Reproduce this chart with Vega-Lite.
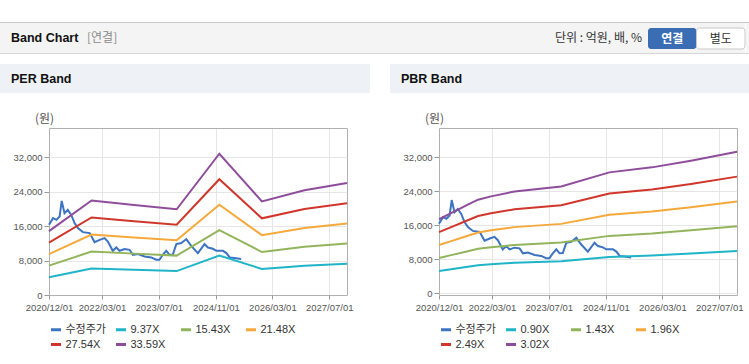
{
"$schema": "https://vega.github.io/schema/vega-lite/v6.json",
"padding": {"top": 22, "left": 0, "right": 0, "bottom": 0},
"background": "white",
"config": {
  "font": "Liberation Sans, Noto Sans CJK KR",
  "view": {"stroke": null},
  "axis": {"labelFont": "Liberation Sans", "labelFontSize": 9.5, "labelColor": "#555555", "tickColor": "#9a9a9a", "domain": false, "grid": true},
  "legend": {"orient": "none", "direction": "horizontal", "columns": 4, "symbolType": "stroke", "symbolStrokeWidth": 3, "symbolSize": 100, "labelFontSize": 11, "labelColor": "#333333", "labelFont": "Liberation Sans, Noto Sans CJK KR", "title": null, "gridAlign": "all", "columnPadding": 3, "rowPadding": 2, "labelOffset": 3}
},
"datasets": {
  "price": [
    {"d":"2020-12-01","v":16300},{"d":"2021-01-05","v":17850},{"d":"2021-02-03","v":17460},{"d":"2021-03-02","v":18230},{"d":"2021-03-20","v":21870},{"d":"2021-04-13","v":19010},{"d":"2021-05-11","v":19780},{"d":"2021-06-10","v":18620},{"d":"2021-07-08","v":16700},{"d":"2021-08-06","v":15530},{"d":"2021-09-18","v":14610},{"d":"2021-11-15","v":14380},{"d":"2021-12-27","v":12290},{"d":"2022-02-09","v":12820},{"d":"2022-03-22","v":13220},{"d":"2022-04-20","v":12430},{"d":"2022-06-01","v":10270},{"d":"2022-07-01","v":11040},{"d":"2022-07-29","v":10270},{"d":"2022-09-10","v":10670},{"d":"2022-10-23","v":10500},{"d":"2022-11-21","v":9340},{"d":"2023-01-03","v":9510},{"d":"2023-03-01","v":8950},{"d":"2023-04-27","v":8720},{"d":"2023-06-08","v":8190},{"d":"2023-07-06","v":8190},{"d":"2023-08-04","v":9340},{"d":"2023-09-03","v":10270},{"d":"2023-10-01","v":9340},{"d":"2023-10-29","v":9400},{"d":"2023-11-28","v":11830},{"d":"2024-01-10","v":12060},{"d":"2024-02-22","v":12990},{"d":"2024-04-04","v":11400},{"d":"2024-05-31","v":9740},{"d":"2024-07-27","v":11830},{"d":"2024-08-25","v":11040},{"d":"2024-10-07","v":10740},{"d":"2024-11-05","v":10270},{"d":"2025-01-01","v":10270},{"d":"2025-01-31","v":9740},{"d":"2025-02-28","v":8720},{"d":"2025-04-10","v":8580},{"d":"2025-06-06","v":8350}
  ],
  "perband": [
    {"s":"9.37X","d":"2020-12-01","v":4142},{"s":"9.37X","d":"2021-12-01","v":6128},{"s":"9.37X","d":"2022-12-01","v":5838},{"s":"9.37X","d":"2023-12-01","v":5556},{"s":"9.37X","d":"2024-12-01","v":9154},{"s":"9.37X","d":"2025-12-01","v":6062},{"s":"9.37X","d":"2026-12-01","v":6793},{"s":"9.37X","d":"2027-12-01","v":7252},
    {"s":"15.43X","d":"2020-12-01","v":6820},{"s":"15.43X","d":"2021-12-01","v":10091},{"s":"15.43X","d":"2022-12-01","v":9613},{"s":"15.43X","d":"2023-12-01","v":9150},{"s":"15.43X","d":"2024-12-01","v":15075},{"s":"15.43X","d":"2025-12-01","v":9983},{"s":"15.43X","d":"2026-12-01","v":11187},{"s":"15.43X","d":"2027-12-01","v":11943},
    {"s":"21.48X","d":"2020-12-01","v":9494},{"s":"21.48X","d":"2021-12-01","v":14048},{"s":"21.48X","d":"2022-12-01","v":13382},{"s":"21.48X","d":"2023-12-01","v":12738},{"s":"21.48X","d":"2024-12-01","v":20986},{"s":"21.48X","d":"2025-12-01","v":13898},{"s":"21.48X","d":"2026-12-01","v":15573},{"s":"21.48X","d":"2027-12-01","v":16626},
    {"s":"27.54X","d":"2020-12-01","v":12173},{"s":"27.54X","d":"2021-12-01","v":18011},{"s":"27.54X","d":"2022-12-01","v":17157},{"s":"27.54X","d":"2023-12-01","v":16331},{"s":"27.54X","d":"2024-12-01","v":26906},{"s":"27.54X","d":"2025-12-01","v":17818},{"s":"27.54X","d":"2026-12-01","v":19967},{"s":"27.54X","d":"2027-12-01","v":21316},
    {"s":"33.59X","d":"2020-12-01","v":14847},{"s":"33.59X","d":"2021-12-01","v":21968},{"s":"33.59X","d":"2022-12-01","v":20927},{"s":"33.59X","d":"2023-12-01","v":19919},{"s":"33.59X","d":"2024-12-01","v":32817},{"s":"33.59X","d":"2025-12-01","v":21733},{"s":"33.59X","d":"2026-12-01","v":24353},{"s":"33.59X","d":"2027-12-01","v":25999}
  ],
  "pbrband": [
    {"s":"0.90X","d":"2020-12-01","v":5184},{"s":"0.90X","d":"2021-03-15","v":5607},{"s":"0.90X","d":"2021-08-05","v":6192},{"s":"0.90X","d":"2021-11-01","v":6543},{"s":"0.90X","d":"2022-02-20","v":6777},{"s":"0.90X","d":"2022-09-10","v":7119},{"s":"0.90X","d":"2023-10-15","v":7470},{"s":"0.90X","d":"2024-12-01","v":8460},{"s":"0.90X","d":"2025-12-01","v":8811},{"s":"0.90X","d":"2026-11-01","v":9279},{"s":"0.90X","d":"2027-12-01","v":9900},
    {"s":"1.43X","d":"2020-12-01","v":8237},{"s":"1.43X","d":"2021-03-15","v":8909},{"s":"1.43X","d":"2021-08-05","v":9838},{"s":"1.43X","d":"2021-11-01","v":10396},{"s":"1.43X","d":"2022-02-20","v":10768},{"s":"1.43X","d":"2022-09-10","v":11311},{"s":"1.43X","d":"2023-10-15","v":11869},{"s":"1.43X","d":"2024-12-01","v":13442},{"s":"1.43X","d":"2025-12-01","v":14000},{"s":"1.43X","d":"2026-11-01","v":14743},{"s":"1.43X","d":"2027-12-01","v":15730},
    {"s":"1.96X","d":"2020-12-01","v":11290},{"s":"1.96X","d":"2021-03-15","v":12211},{"s":"1.96X","d":"2021-08-05","v":13485},{"s":"1.96X","d":"2021-11-01","v":14249},{"s":"1.96X","d":"2022-02-20","v":14759},{"s":"1.96X","d":"2022-09-10","v":15504},{"s":"1.96X","d":"2023-10-15","v":16268},{"s":"1.96X","d":"2024-12-01","v":18424},{"s":"1.96X","d":"2025-12-01","v":19188},{"s":"1.96X","d":"2026-11-01","v":20208},{"s":"1.96X","d":"2027-12-01","v":21560},
    {"s":"2.49X","d":"2020-12-01","v":14342},{"s":"2.49X","d":"2021-03-15","v":15513},{"s":"2.49X","d":"2021-08-05","v":17131},{"s":"2.49X","d":"2021-11-01","v":18102},{"s":"2.49X","d":"2022-02-20","v":18750},{"s":"2.49X","d":"2022-09-10","v":19696},{"s":"2.49X","d":"2023-10-15","v":20667},{"s":"2.49X","d":"2024-12-01","v":23406},{"s":"2.49X","d":"2025-12-01","v":24377},{"s":"2.49X","d":"2026-11-01","v":25672},{"s":"2.49X","d":"2027-12-01","v":27390},
    {"s":"3.02X","d":"2020-12-01","v":17395},{"s":"3.02X","d":"2021-03-15","v":18815},{"s":"3.02X","d":"2021-08-05","v":20778},{"s":"3.02X","d":"2021-11-01","v":21955},{"s":"3.02X","d":"2022-02-20","v":22741},{"s":"3.02X","d":"2022-09-10","v":23888},{"s":"3.02X","d":"2023-10-15","v":25066},{"s":"3.02X","d":"2024-12-01","v":28388},{"s":"3.02X","d":"2025-12-01","v":29566},{"s":"3.02X","d":"2026-11-01","v":31136},{"s":"3.02X","d":"2027-12-01","v":33220}
  ]
},
"spacing": 10,
"resolve": {"scale": {"color": "independent"}, "legend": {"color": "independent"}},
"vconcat": [
  {"spacing": 0, "vconcat": [
    {"width": 749, "height": 1, "view": {"fill": "#c8c8c8", "stroke": null},
     "data": {"values": []}, "mark": {"type": "text", "text": ""}, "encoding": {}},
    {"spacing": 0, "hconcat": [
      {"width": 85, "height": 30, "view": {"fill": "#f4f4f4", "stroke": null},
       "data": {"values": [{"t": "Band Chart"}]},
       "mark": {"type": "text", "align": "left", "baseline": "middle", "dx": 11, "fontSize": 12.5, "fontWeight": "bold", "color": "#111111", "font": "Liberation Sans"},
       "encoding": {"x": {"field": "t", "type": "nominal", "bandPosition": 0, "scale": {"type": "band", "paddingInner": 0, "paddingOuter": 0}, "axis": null}, "text": {"field": "t"}}},
      {"width": 298, "height": 30, "view": {"fill": "#f4f4f4", "stroke": null},
       "data": {"values": [{"t": "[연결]"}]},
       "mark": {"type": "text", "align": "left", "baseline": "middle", "dx": 2, "fontSize": 12, "color": "#8a8a8a", "font": "Noto Sans CJK KR"},
       "encoding": {"x": {"field": "t", "type": "nominal", "bandPosition": 0, "scale": {"type": "band", "paddingInner": 0, "paddingOuter": 0}, "axis": null}, "text": {"field": "t"}}},
      {"width": 265, "height": 30, "view": {"fill": "#f4f4f4", "stroke": null},
       "data": {"values": [{"t": "단위 : 억원, 배, %"}]},
       "mark": {"type": "text", "align": "right", "baseline": "middle", "dx": -6, "fontSize": 12, "color": "#333333", "font": "Noto Sans CJK KR"},
       "encoding": {"x": {"field": "t", "type": "nominal", "bandPosition": 1, "scale": {"type": "band", "paddingInner": 0, "paddingOuter": 0}, "axis": null}, "text": {"field": "t"}}},
      {"width": 97, "height": 30, "view": {"fill": "#f4f4f4", "stroke": null},
       "data": {"values": [{"b": "연결", "r": "a"}, {"b": "별도", "r": "a"}]},
       "encoding": {
         "x": {"field": "b", "type": "nominal", "sort": null, "scale": {"type": "band", "domain": ["연결", "별도"], "paddingInner": 0, "paddingOuter": 0}, "axis": null},
         "y": {"field": "r", "type": "nominal", "scale": {"type": "band", "paddingInner": 0, "paddingOuter": 0.214, "align": 0.56}, "axis": null}
       },
       "layer": [
         {"transform": [{"filter": "datum.b == '연결'"}], "mark": {"type": "bar", "color": "#3a6db3", "cornerRadius": 3}},
         {"transform": [{"filter": "datum.b == '별도'"}], "mark": {"type": "bar", "color": "#ffffff", "stroke": "#c8c8c8", "cornerRadius": 3}},
         {"transform": [{"filter": "datum.b == '연결'"}], "mark": {"type": "text", "color": "#ffffff", "fontWeight": "bold", "fontSize": 12, "font": "Noto Sans CJK KR"}, "encoding": {"text": {"field": "b"}}},
         {"transform": [{"filter": "datum.b == '별도'"}], "mark": {"type": "text", "color": "#333333", "fontSize": 12, "font": "Noto Sans CJK KR"}, "encoding": {"text": {"field": "b"}}}
       ]},
      {"width": 4, "height": 30, "view": {"fill": "#f4f4f4", "stroke": null},
       "data": {"values": []}, "mark": {"type": "text", "text": ""}, "encoding": {}}
    ]},
    {"width": 749, "height": 1, "view": {"fill": "#d6d6d6", "stroke": null},
     "data": {"values": []}, "mark": {"type": "text", "text": ""}, "encoding": {}}
  ]},
  {"spacing": 20, "resolve": {"scale": {"color": "independent"}, "legend": {"color": "independent"}}, "hconcat": [
    {"spacing": 19, "vconcat": [
      {"width": 370, "height": 29, "view": {"fill": "#eef2f7", "stroke": null},
       "data": {"values": [{"t": "PER Band"}]},
       "mark": {"type": "text", "align": "left", "baseline": "middle", "dx": 11, "fontSize": 12.5, "fontWeight": "bold", "color": "#111111", "font": "Liberation Sans"},
       "encoding": {"x": {"field": "t", "type": "nominal", "bandPosition": 0, "scale": {"type": "band", "paddingInner": 0, "paddingOuter": 0}, "axis": null}, "text": {"field": "t"}}},
      {"width": 347, "height": 167,
       "layer": [
         {"data": {"name": "price"}, "mark": {"type": "line", "strokeWidth": 2},
          "encoding": {"x": {"field": "d", "type": "temporal"}, "y": {"field": "v", "type": "quantitative"}, "color": {"datum": "수정주가"}}},
         {"data": {"name": "perband"}, "mark": {"type": "line", "strokeWidth": 2},
          "encoding": {"x": {"field": "d", "type": "temporal"}, "y": {"field": "v", "type": "quantitative"}, "color": {"field": "s", "type": "nominal"}}}
       ],
       "encoding": {
         "x": {"field": "d", "type": "temporal",
           "scale": {"type": "utc", "range": [49, 347], "domain": [{"year": 2020, "month": 12, "date": 1, "utc": true}, {"year": 2027, "month": 12, "date": 1, "utc": true}]},
           "axis": {"title": null, "format": "%Y/%m/%d", "labelOverlap": false, "labelFlush": false, "tickSize": 4, "labelPadding": 3,
             "labelExpr": "utcyear(datum.value) == 2027 && utcmonth(datum.value) == 11 ? '' : datum.label",
             "tickOpacity": {"condition": {"test": "utcyear(datum.value) == 2027 && utcmonth(datum.value) == 11", "value": 0}, "value": 1},
             "gridColor": {"condition": {"test": "utcyear(datum.value) == 2020 || (utcyear(datum.value) == 2027 && utcmonth(datum.value) == 11)", "value": "#b0b0b0"}, "value": "#e6e6e6"},
             "values": [{"year": 2020, "month": 12, "date": 1, "utc": true}, {"year": 2022, "month": 3, "date": 1, "utc": true}, {"year": 2023, "month": 7, "date": 1, "utc": true}, {"year": 2024, "month": 11, "date": 1, "utc": true}, {"year": 2026, "month": 3, "date": 1, "utc": true}, {"year": 2027, "month": 7, "date": 1, "utc": true}, {"year": 2027, "month": 12, "date": 1, "utc": true}]}},
         "y": {"field": "v", "type": "quantitative",
           "scale": {"domain": [0, 38800], "nice": false, "zero": false},
           "axis": {"values": [0, 8000, 16000, 24000, 32000, 38800], "format": ",d", "tickSize": 5, "labelPadding": 2, "offset": -49,
             "labelExpr": "datum.value == 38800 ? '' : datum.label",
             "tickOpacity": {"condition": {"test": "datum.value == 38800", "value": 0}, "value": 1},
             "gridColor": {"condition": {"test": "datum.value == 38800 || datum.value == 0", "value": "#b0b0b0"}, "value": "#e6e6e6"},
             "title": "(원)", "titleAngle": 0, "titleX": -5, "titleY": -10, "titleAlign": "center", "titleBaseline": "middle", "titleFontSize": 12, "titleFontWeight": "normal", "titleColor": "#555555", "titleFont": "Noto Sans CJK KR"}},
         "color": {"type": "nominal",
           "scale": {"domain": ["수정주가", "9.37X", "15.43X", "21.48X", "27.54X", "33.59X"], "range": ["#3c74c2", "#1fb4c7", "#92b55b", "#f6a93b", "#d0362b", "#8e4d9b"]},
           "legend": {"orient": "none", "legendX": 49.5, "legendY": 259}}
       }}
    ]},
    {"spacing": 19, "vconcat": [
      {"width": 359, "height": 29, "view": {"fill": "#eef2f7", "stroke": null},
       "data": {"values": [{"t": "PBR Band"}]},
       "mark": {"type": "text", "align": "left", "baseline": "middle", "dx": 11, "fontSize": 12.5, "fontWeight": "bold", "color": "#111111", "font": "Liberation Sans"},
       "encoding": {"x": {"field": "t", "type": "nominal", "bandPosition": 0, "scale": {"type": "band", "paddingInner": 0, "paddingOuter": 0}, "axis": null}, "text": {"field": "t"}}},
      {"width": 347, "height": 167,
       "layer": [
         {"data": {"name": "price"}, "mark": {"type": "line", "strokeWidth": 2},
          "encoding": {"x": {"field": "d", "type": "temporal"}, "y": {"field": "v", "type": "quantitative"}, "color": {"datum": "수정주가"}}},
         {"data": {"name": "pbrband"}, "mark": {"type": "line", "strokeWidth": 2},
          "encoding": {"x": {"field": "d", "type": "temporal"}, "y": {"field": "v", "type": "quantitative"}, "color": {"field": "s", "type": "nominal"}}}
       ],
       "encoding": {
         "x": {"field": "d", "type": "temporal",
           "scale": {"type": "utc", "range": [49, 347], "domain": [{"year": 2020, "month": 12, "date": 1, "utc": true}, {"year": 2027, "month": 12, "date": 1, "utc": true}]},
           "axis": {"title": null, "format": "%Y/%m/%d", "labelOverlap": false, "labelFlush": false, "tickSize": 4, "labelPadding": 3,
             "labelExpr": "utcyear(datum.value) == 2027 && utcmonth(datum.value) == 11 ? '' : datum.label",
             "tickOpacity": {"condition": {"test": "utcyear(datum.value) == 2027 && utcmonth(datum.value) == 11", "value": 0}, "value": 1},
             "gridColor": {"condition": {"test": "utcyear(datum.value) == 2020 || (utcyear(datum.value) == 2027 && utcmonth(datum.value) == 11)", "value": "#b0b0b0"}, "value": "#e6e6e6"},
             "values": [{"year": 2020, "month": 12, "date": 1, "utc": true}, {"year": 2022, "month": 3, "date": 1, "utc": true}, {"year": 2023, "month": 7, "date": 1, "utc": true}, {"year": 2024, "month": 11, "date": 1, "utc": true}, {"year": 2026, "month": 3, "date": 1, "utc": true}, {"year": 2027, "month": 7, "date": 1, "utc": true}, {"year": 2027, "month": 12, "date": 1, "utc": true}]}},
         "y": {"field": "v", "type": "quantitative",
           "scale": {"domain": [-470, 38830], "nice": false, "zero": false},
           "axis": {"values": [-470, 0, 8000, 16000, 24000, 32000, 38830], "format": ",d", "tickSize": 5, "labelPadding": 2, "offset": -49,
             "labelExpr": "datum.value == 38830 || datum.value == -470 ? '' : datum.label",
             "tickOpacity": {"condition": {"test": "datum.value == 38830 || datum.value == -470", "value": 0}, "value": 1},
             "gridColor": {"condition": {"test": "datum.value == 38830 || datum.value == -470", "value": "#b0b0b0"}, "value": "#e6e6e6"},
             "title": "(원)", "titleAngle": 0, "titleX": -5, "titleY": -10, "titleAlign": "center", "titleBaseline": "middle", "titleFontSize": 12, "titleFontWeight": "normal", "titleColor": "#555555", "titleFont": "Noto Sans CJK KR"}},
         "color": {"type": "nominal",
           "scale": {"domain": ["수정주가", "0.90X", "1.43X", "1.96X", "2.49X", "3.02X"], "range": ["#3c74c2", "#1fb4c7", "#92b55b", "#f6a93b", "#d0362b", "#8e4d9b"]},
           "legend": {"orient": "none", "legendX": 49.5, "legendY": 259}}
       }}
    ]}
  ]}
]
}
